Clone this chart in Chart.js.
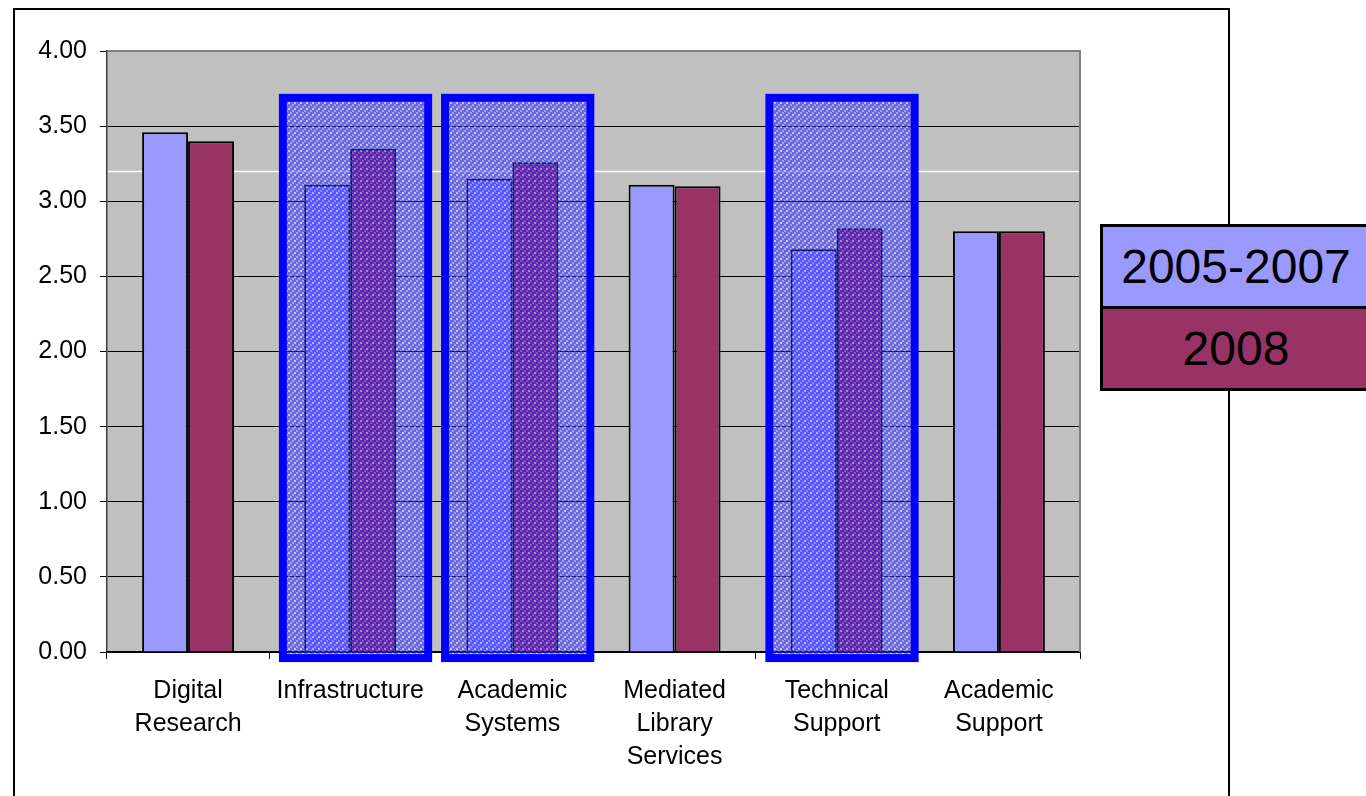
<!DOCTYPE html>
<html>
<head>
<meta charset="utf-8">
<title>Service ratings</title>
<script src="https://cdn.jsdelivr.net/npm/chart.js@4/dist/chart.umd.min.js"></script>
<style>
  html, body { margin: 0; padding: 0; background: #fff; overflow: hidden; }
  body { width: 1366px; height: 796px; position: relative; }
  #frame { position: absolute; left: 13px; top: 8px; width: 1217px; height: 900px; border: 2px solid #000; box-sizing: border-box; }
  #chart { position: absolute; left: 0; top: 0; }
  #legend { position: absolute; left: 1100px; top: 224px; width: 272px; border: 3px solid #000; box-sizing: border-box; font-family: "Liberation Sans", Arial, sans-serif; font-size: 48px; color: #000; }
  #legend .cell { height: 79px; line-height: 79px; text-align: center; }
  #legend .cell + .cell { border-top: 3px solid #000; }
</style>
</head>
<body>
<div id="frame"></div>
<canvas id="chart" width="1366" height="796"></canvas>
<div id="legend"></div>
<script>
// Categories and the two survey periods
const categories = [
  ['Digital', 'Research'],
  'Infrastructure',
  ['Academic', 'Systems'],
  ['Mediated', 'Library', 'Services'],
  ['Technical', 'Support'],
  ['Academic', 'Support']
];
const seriesNames = ['2005-2007', '2008'];
const values2005to2007 = [3.46, 3.11, 3.15, 3.11, 2.68, 2.80];
const values2008 = [3.40, 3.35, 3.26, 3.10, 2.82, 2.80];
const seriesColors = ['#9999FF', '#993366'];

// Value axis range and steps
const yMin = 0;
const yMax = 4;
const yStep = 0.5;

// Categories framed in blue, and the white reference level
const highlightedCategories = [1, 2, 4];
const referenceLevel = 3.2;

const FONT = '"Liberation Sans", Arial, sans-serif';

// Checkered blue texture used inside the framed categories (2px cells)
function makeTexture() {
  const c = document.createElement('canvas');
  c.width = 6; c.height = 6;
  const g = c.getContext('2d');
  for (let y = 0; y < 3; y++) {
    for (let x = 0; x < 3; x++) {
      if (x === 0 && y === 0) g.fillStyle = 'rgba(225,225,255,0.45)';
      else if (x === 0 || y === 0) g.fillStyle = 'rgba(40,40,255,0.5)';
      else if (x === y) g.fillStyle = 'rgba(0,0,255,0.4)';
      else g.fillStyle = 'rgba(140,140,255,0.3)';
      g.fillRect(x * 2, y * 2, 2, 2);
    }
  }
  return c;
}

const plotDecor = {
  id: 'plotDecor',
  beforeDraw(chart) {
    const { ctx, chartArea: a } = chart;
    ctx.save();
    ctx.fillStyle = '#C0C0C0';
    ctx.fillRect(a.left, a.top, a.right - a.left, a.bottom - a.top);
    ctx.restore();
  },
  beforeDatasetsDraw(chart) {
    const { ctx, chartArea: a, scales } = chart;
    const y = Math.round(scales.y.getPixelForValue(referenceLevel)) + 0.5;
    ctx.save();
    ctx.strokeStyle = '#FFFFFF';
    ctx.lineWidth = 1.5;
    ctx.beginPath();
    ctx.moveTo(a.left + 1, y);
    ctx.lineTo(a.right, y);
    ctx.stroke();
    // gray frame along top and right of the plot
    ctx.strokeStyle = '#808080';
    ctx.lineWidth = 2;
    ctx.beginPath();
    ctx.moveTo(a.left, a.top);
    ctx.lineTo(a.right, a.top);
    ctx.lineTo(a.right, a.bottom);
    ctx.stroke();
    ctx.restore();
  },
  afterDatasetsDraw(chart) {
    const { ctx, scales } = chart;
    const xs = scales.x, ys = scales.y;
    const step = (xs.getPixelForValue(1) - xs.getPixelForValue(0));
    const pattern = ctx.createPattern(makeTexture(), 'repeat');
    const top = ys.getPixelForValue(3.715);
    const bottom = ys.getPixelForValue(-0.067);
    const lw = 8;
    ctx.save();
    highlightedCategories.forEach(i => {
      const cx = xs.getPixelForValue(i);
      const left = cx - 0.44 * step;
      const right = cx + 0.505 * step;
      const ix = left + lw, iy = top + lw;
      const iw = right - left - 2 * lw, ih = bottom - top - 2 * lw;
      ctx.fillStyle = 'rgba(70,70,255,0.15)';
      ctx.fillRect(ix, iy, iw, ih);
      ctx.fillStyle = pattern;
      ctx.fillRect(ix, iy, iw, ih);
      ctx.strokeStyle = '#0000FF';
      ctx.lineWidth = lw;
      ctx.strokeRect(left + lw / 2, top + lw / 2, right - left - lw, bottom - top - lw);
    });
    ctx.restore();
  }
};

new Chart(document.getElementById('chart'), {
  type: 'bar',
  data: {
    labels: categories,
    datasets: [
      {
        label: seriesNames[0],
        data: values2005to2007,
        backgroundColor: seriesColors[0],
        borderColor: '#000',
        borderWidth: 2,
        borderSkipped: 'start'
      },
      {
        label: seriesNames[1],
        data: values2008,
        backgroundColor: seriesColors[1],
        borderColor: '#000',
        borderWidth: 2,
        borderSkipped: 'start'
      }
    ]
  },
  options: {
    responsive: false,
    animation: false,
    events: [],
    categoryPercentage: 0.567,
    barPercentage: 1.0,
    layout: { padding: { top: 51, right: 286, left: 0, bottom: 0 } },
    plugins: {
      legend: { display: false },
      tooltip: { enabled: false }
    },
    scales: {
      y: {
        min: yMin,
        max: yMax,
        afterFit(scale) { scale.width = 107; },
        ticks: {
          stepSize: yStep,
          color: '#000',
          padding: 13,
          font: { family: FONT, size: 25 },
          callback: v => Number(v).toFixed(2)
        },
        grid: {
          color: ctx => (ctx.tick && ctx.tick.value === yMax) ? 'rgba(0,0,0,0)' : '#000',
          lineWidth: 1,
          tickLength: 7,
          tickColor: '#000'
        },
        border: { display: true, color: '#404040', width: 1.5 }
      },
      x: {
        afterFit(scale) { scale.height = 796 - 652; },
        ticks: {
          color: '#000',
          padding: 16,
          maxRotation: 0,
          autoSkip: false,
          font: { family: FONT, size: 25, lineHeight: 1.32 }
        },
        grid: {
          offset: true,
          drawOnChartArea: false,
          tickLength: 7,
          color: '#000',
          lineWidth: 1
        },
        border: { display: true, color: '#000', width: 1.5 }
      }
    }
  },
  plugins: [plotDecor]
});

// Legend boxes, one per series
const legend = document.getElementById('legend');
seriesNames.forEach((name, i) => {
  const cell = document.createElement('div');
  cell.className = 'cell';
  cell.style.background = seriesColors[i];
  cell.textContent = name;
  legend.appendChild(cell);
});
</script>
</body>
</html>
